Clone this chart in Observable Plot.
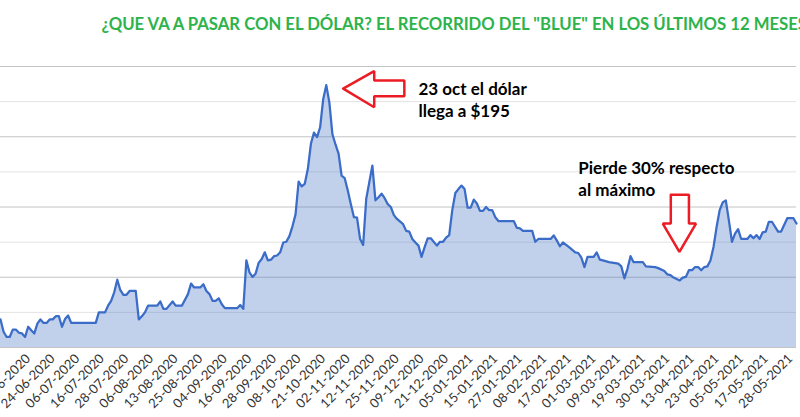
<!DOCTYPE html>
<html>
<head>
<meta charset="utf-8">
<script src="https://cdn.jsdelivr.net/npm/d3@7"></script>
<script src="https://cdn.jsdelivr.net/npm/@observablehq/plot@0.6"></script>
<style>
  html, body { margin: 0; padding: 0; background: #fff; overflow: hidden; }
  #chart { width: 800px; height: 417px; }
</style>
</head>
<body>
<div id="chart"></div>
<script>
// Business-day index (0 = first day of the 12-month window) and blue-dollar price (ARS)
const dayIndex = [0,1,2,3,4,5,6,7,8,9,10,11,12,13,14,15,16,17,18,19,20,21,22,23,31,32,34,35,36,37,38,39,40,41,42,44,45,46,47,48,51,52,53,54,56,57,59,61,62,63,65,66,67,68,69,70,71,72,73,77,78,79,80,81,82,83,84,85,86,87,88,89,90,91,92,93,94,95,96,97,98,99,100,101,102,103,104,105,106,107,108,109,110,111,112,113,114,115,116,117,118,119,121,122,123,124,125,126,127,128,129,131,132,133,134,135,136,137,138,139,140,142,143,144,145,146,147,148,149,150,151,152,153,154,155,156,157,158,159,160,161,162,167,168,169,170,173,174,175,179,180,181,182,183,185,187,188,189,190,191,193,194,195,196,198,201,202,203,204,205,206,209,210,213,214,216,217,218,219,221,222,223,224,225,226,227,228,229,230,231,232,233,234,235,236,237,238,239,240,241,243,244,245,246,247,248,249,250,251,253,254,256,258,259];
const bluePrice = [128.0,124.5,123.0,123.0,125.1,125.1,124.2,124.0,123.0,125.9,124.9,124.0,126.8,128.0,127.0,127.0,128.0,128.0,128.9,128.9,125.9,128.1,129.1,127.0,127.0,130.0,130.0,131.9,133.3,135.7,139.3,136.3,135.0,135.0,136.1,136.1,128.0,128.9,130.0,131.9,131.9,133.1,131.0,131.0,133.1,131.9,131.9,135.2,138.2,137.1,137.1,138.0,136.1,135.2,133.3,133.3,134.0,132.3,131.2,131.2,132.1,131.0,144.8,141.4,140.1,141.0,144.1,145.2,147.1,144.8,145.0,146.0,146.2,147.1,149.9,150.1,151.7,154.5,157.9,167.2,165.9,166.6,170.8,178.0,181.2,179.9,182.7,190.7,194.7,189.8,180.7,177.8,175.2,168.9,168.2,164.7,160.8,157.1,157.0,150.9,149.2,162.3,171.8,161.9,162.8,163.8,162.5,160.8,160.0,157.7,156.6,155.1,153.2,153.0,150.9,149.9,149.0,145.8,148.6,151.1,151.1,149.0,150.1,150.1,151.3,152.0,159.1,164.0,165.1,166.1,165.1,159.8,159.8,162.1,161.0,158.9,158.9,160.0,159.1,159.1,157.1,156.0,156.0,154.1,153.9,153.2,153.2,150.1,150.9,150.9,151.9,150.5,148.8,149.9,148.6,147.1,146.9,145.6,142.9,145.8,145.8,147.1,145.0,144.8,144.3,143.9,143.1,139.7,142.4,146.0,144.3,144.3,143.1,142.9,142.6,141.8,140.8,140.6,139.9,139.1,139.9,140.1,142.0,142.0,142.9,142.9,142.0,142.9,143.1,144.8,148.6,154.3,159.1,161.3,161.9,156.2,150.1,152.4,153.7,150.9,150.9,152.0,151.1,152.0,150.9,152.8,153.0,155.8,155.8,153.0,153.0,156.8,156.8,155.3];

// X-axis tick labels and the business-day index where each sits
const tickIndex = [9,17,25,33,41,49,57,65,73,81,89,97,105,113,121,129,137,145,153,161,169,177,185,193,201,209,217,225,233,241,249,257];
const tickLabels = ["11-06-2020","24-06-2020","06-07-2020","16-07-2020","28-07-2020","06-08-2020","13-08-2020","25-08-2020","04-09-2020","16-09-2020","28-09-2020","08-10-2020","21-10-2020","02-11-2020","12-11-2020","25-11-2020","09-12-2020","21-12-2020","05-01-2021","15-01-2021","27-01-2021","08-02-2021","17-02-2021","01-03-2021","09-03-2021","19-03-2021","30-03-2021","13-04-2021","23-04-2021","05-05-2021","17-05-2021","28-05-2021"];

const gridMajor = [120, 140, 160, 180, 200];
const gridMinor = [130, 150, 170, 190];

const title = "¿QUE VA A PASAR CON EL DÓLAR? EL RECORRIDO DEL \"BLUE\" EN LOS ÚLTIMOS 12 MESES";
const notes = [
  {i: 136, v: 196.3, t: "23 oct el dólar\nllega a $195"},
  {i: 188, v: 173.8, t: "Pierde 30% respecto\nal máximo"}
];
// Block-arrow outlines in data space (day index, price)
const arrowPeak = [[111.5,193.7],[121.6,198.7],[121.6,196.0],[131.4,196.0],[131.4,191.5],[121.6,191.5],[121.6,188.4],[111.5,193.7]];
const arrowLow = [[218.1,163.5],[224.0,163.5],[224.0,155.3],[226.3,155.3],[220.9,147.2],[215.5,155.3],[218.1,155.3],[218.1,163.5]];

const series = dayIndex.map((d, k) => ({i: d, v: bluePrice[k]}));
const labelOf = new Map(tickIndex.map((d, k) => [d, tickLabels[k]]));

const chart = Plot.plot({
  width: 800,
  height: 417,
  marginTop: 66,
  marginBottom: 70,
  marginLeft: 0,
  marginRight: 4,
  style: {fontFamily: "Lato, 'Open Sans', sans-serif", fontSize: "13px", color: "#333", background: "#fff", overflow: "hidden"},
  x: {domain: [0, 259], axis: null, label: null},
  y: {domain: [120, 200], axis: null, label: null},
  marks: [
    Plot.ruleY(gridMinor, {stroke: "#e3e3e3", strokeWidth: 1}),
    Plot.ruleY(gridMajor, {stroke: "#c4c4c4", strokeWidth: 1}),
    Plot.area(series, {x1: "i", y1: 120, y2: "v", fill: "#4472c4", fillOpacity: 0.33}),
    Plot.line(series, {x: "i", y: "v", stroke: "#3a6cc8", strokeWidth: 2.25, strokeLinejoin: "round"}),
    Plot.axisX({ticks: tickIndex, tickFormat: d => labelOf.get(d), tickRotate: -45, tickSize: 0, tickPadding: 9, fontSize: 13, label: null}),
    Plot.line(arrowPeak, {x: d => d[0], y: d => d[1], stroke: "#ec1c24", strokeWidth: 2.5, strokeLinejoin: "miter"}),
    Plot.line(arrowLow, {x: d => d[0], y: d => d[1], stroke: "#ec1c24", strokeWidth: 2.5, strokeLinejoin: "miter"}),
    Plot.text(notes, {x: "i", y: "v", text: "t", textAnchor: "start", lineAnchor: "top", lineHeight: 1.3, fontSize: 17, fontWeight: "bold", fill: "#000"}),
    Plot.text([title], {text: d => d, frameAnchor: "top-left", dx: 101, dy: -48.7, textAnchor: "start", lineAnchor: "top", fontSize: 16.7, fontWeight: "bold", fill: "#2db34b"})
  ]
});
document.getElementById("chart").appendChild(chart);
</script>
</body>
</html>
